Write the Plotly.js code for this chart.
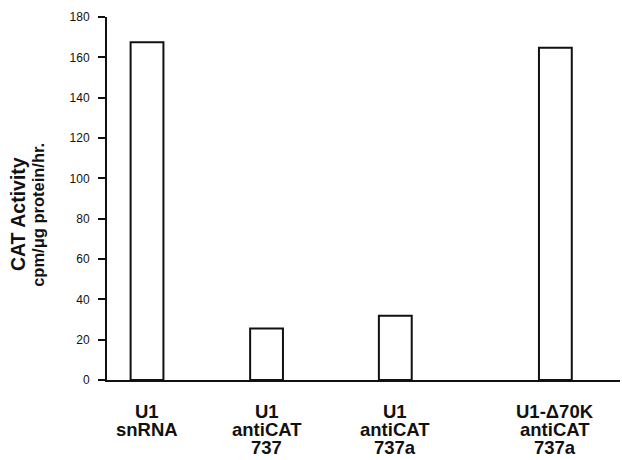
<!DOCTYPE html>
<html>
<head>
<meta charset="utf-8">
<script src="https://cdn.plot.ly/plotly-3.0.1.min.js"></script>
<style>html,body{margin:0;padding:0;background:#fff;}#chart{width:622px;height:460px;}</style>
</head>
<body>
<div id="chart"></div>
<script>
var categories = ["U1<br>snRNA", "U1<br>antiCAT<br>737", "U1<br>antiCAT<br>737a", "U1-\u039470K<br>antiCAT<br>737a"];
var positions = [0.78, 3.11, 5.62, 8.74];
var values = [167.5, 25.5, 31.8, 164.8];
var yTicks = [0, 20, 40, 60, 80, 100, 120, 140, 160, 180];

var trace = {
  type: 'bar',
  x: positions,
  y: values,
  width: 0.64,
  marker: {color: '#ffffff', line: {color: '#111111', width: 2}},
  hoverinfo: 'none'
};

// category labels: one annotation per text line, tighter line spacing than tick labels allow
var labelAnnotations = [];
categories.forEach(function (cat, i) {
  cat.split('<br>').forEach(function (line, j) {
    labelAnnotations.push({
      text: '<b>' + line + '</b>', xref: 'x', yref: 'paper', x: positions[i], y: 0,
      xanchor: 'center', yanchor: 'top', yshift: -20 - 18 * j, showarrow: false,
      borderpad: 0,
      font: {size: 18.5, color: '#111111'}
    });
  });
});

var layout = {
  width: 622, height: 460,
  margin: {l: 107, r: 2, t: 17, b: 80},
  paper_bgcolor: '#ffffff', plot_bgcolor: '#ffffff',
  showlegend: false,
  font: {family: 'Liberation Sans, Arial, sans-serif', color: '#111111'},
  xaxis: {
    range: [0, 10],
    tickvals: positions,
    showticklabels: false,
    ticks: '',
    showgrid: false, zeroline: false,
    showline: true, linecolor: '#111111', linewidth: 2
  },
  yaxis: {
    range: [0, 180],
    tickvals: yTicks,
    ticktext: yTicks.map(String),
    ticks: 'outside', ticklen: 7, tickwidth: 2, tickcolor: '#111111',
    ticklabelstandoff: 6,
    showgrid: false, zeroline: false,
    showline: true, linecolor: '#111111', linewidth: 2,
    tickfont: {size: 12, color: '#111111'}
  },
  annotations: [
    {text: '<b>CAT Activity</b>', xref: 'paper', yref: 'paper', x: 0, y: 0.457, xshift: -89,
     xanchor: 'center', yanchor: 'middle', textangle: -90, showarrow: false,
     font: {size: 19.5, color: '#111111'}},
    {text: '<b>cpm/\u03bcg protein/hr.</b>', xref: 'paper', yref: 'paper', x: 0, y: 0.455, xshift: -69,
     xanchor: 'center', yanchor: 'middle', textangle: -90, showarrow: false,
     font: {size: 16.5, color: '#111111'}}
  ].concat(labelAnnotations)
};

Plotly.newPlot('chart', [trace], layout, {displayModeBar: false, staticPlot: true});
</script>
</body>
</html>
